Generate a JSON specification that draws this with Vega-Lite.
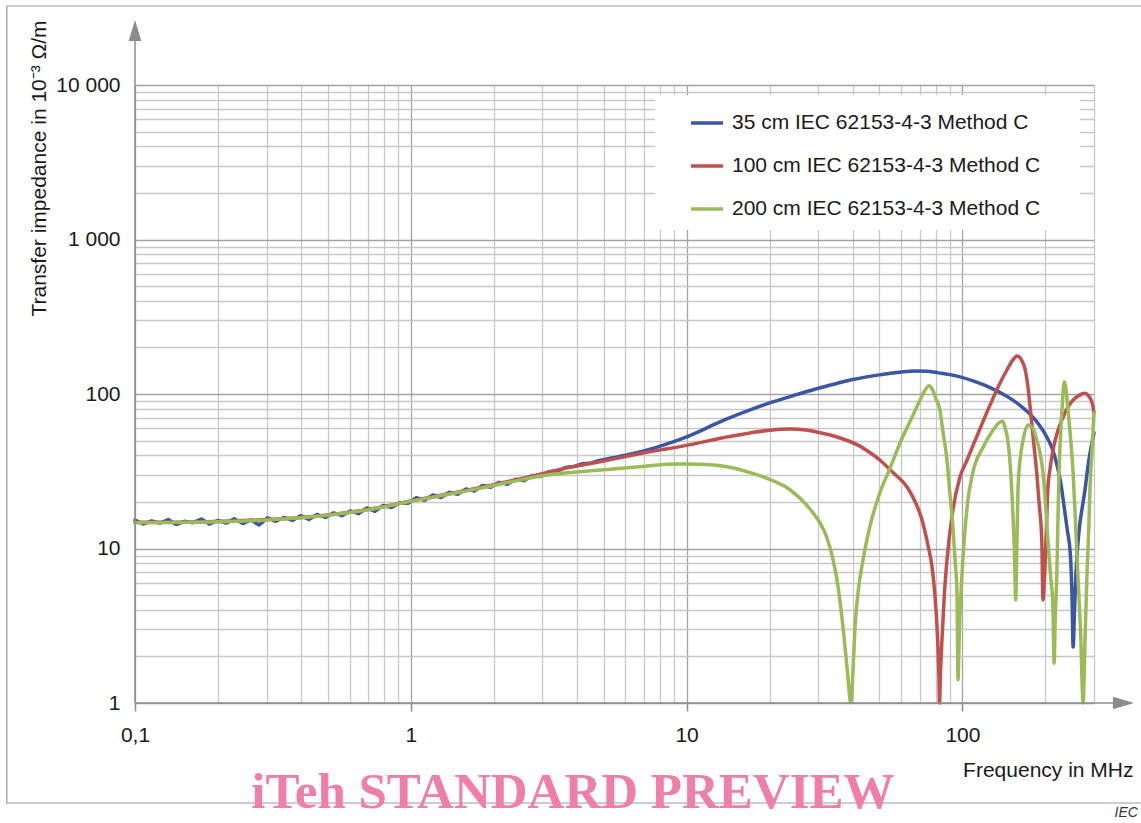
{
  "$schema": "https://vega.github.io/schema/vega-lite/v6.json",
  "width": 959,
  "height": 618,
  "autosize": {"type": "none"},
  "padding": {"left": 135, "top": 85, "right": 47, "bottom": 120},
  "background": "white",
  "config": {
    "view": {"stroke": null},
    "font": "Liberation Sans"
  },
  "layer": [
    {
      "data": {"values": [{}]},
      "mark": {"type": "rect", "fill": null, "stroke": "#9a9a9a", "strokeWidth": 1.2, "clip": false},
      "encoding": {
        "x": {"datum": 0.0343, "type": "quantitative", "scale": {"type": "log", "domain": [0.1, 300], "nice": false}},
        "x2": {"datum": 478},
        "y": {"datum": 32470, "type": "quantitative", "scale": {"type": "log", "domain": [1, 10000], "nice": false}},
        "y2": {"datum": 0.2253}
      }
    },
    {
      "data": {"values": [{}]},
      "mark": {"type": "rect", "fill": "white", "stroke": null},
      "encoding": {
        "x": {"datum": 7.68, "type": "quantitative"},
        "x2": {"datum": 267},
        "y": {"datum": 8617, "type": "quantitative"},
        "y2": {"datum": 1152}
      }
    },
    {
      "data": {"values": [
        {"f":0.1,"z":15.3},{"f":0.107,"z":14.4},{"f":0.115,"z":15.1},{"f":0.123,"z":14.6},{"f":0.132,"z":15.4},{"f":0.141,"z":14.3},{"f":0.151,"z":15.0},{"f":0.162,"z":14.7},{"f":0.174,"z":15.5},{"f":0.186,"z":14.4},{"f":0.2,"z":15.2},{"f":0.214,"z":14.6},{"f":0.229,"z":15.6},{"f":0.246,"z":14.5},{"f":0.263,"z":15.3},{"f":0.282,"z":14.2},{"f":0.302,"z":15.8},{"f":0.324,"z":15.0},{"f":0.347,"z":15.9},{"f":0.372,"z":15.2},{"f":0.398,"z":16.3},{"f":0.427,"z":15.4},{"f":0.457,"z":16.6},{"f":0.49,"z":15.9},{"f":0.525,"z":17.0},{"f":0.562,"z":16.3},{"f":0.603,"z":17.5},{"f":0.646,"z":16.8},{"f":0.692,"z":18.3},{"f":0.741,"z":17.4},{"f":0.794,"z":19.0},{"f":0.851,"z":18.4},{"f":0.912,"z":19.8},{"f":0.977,"z":19.6},{"f":1.047,"z":21.3},{"f":1.122,"z":20.5},{"f":1.202,"z":22.2},{"f":1.288,"z":21.4},{"f":1.38,"z":23.1},{"f":1.479,"z":22.4},{"f":1.585,"z":24.3},{"f":1.698,"z":23.5},{"f":1.82,"z":25.6},{"f":1.95,"z":24.9},{"f":2.089,"z":26.8},{"f":2.239,"z":26.0},{"f":2.399,"z":28.1},{"f":2.57,"z":27.5},{"f":2.754,"z":29.6},{"f":2.951,"z":29.2},{"f":3.162,"z":31.4},{"f":3.388,"z":31.6},{"f":3.631,"z":33.4},{"f":3.89,"z":33.9},{"f":4.169,"z":35.3},{"f":4.467,"z":35.6},{"f":4.786,"z":37.0},{"f":5.0,"z":37.6}
      ]},
      "mark": {"type": "line", "strokeWidth": 3.5, "interpolate": "linear", "strokeJoin": "round", "strokeCap": "round"},
      "encoding": {
        "x": {
          "field": "f", "type": "quantitative",
          "scale": {"type": "log", "domain": [0.1, 300], "nice": false},
          "axis": {
            "values": [0.1,0.2,0.3,0.4,0.5,0.6,0.7,0.8,0.9,1,2,3,4,5,6,7,8,9,10,20,30,40,50,60,70,80,90,100,200,300],
            "domain": false,
            "grid": true,
            "gridColor": {"condition": {"test": "datum.value == 0.1 || datum.value == 1 || datum.value == 10 || datum.value == 100", "value": "#a3a3a3"}, "value": "#c8c8c8"},
            "gridWidth": 1.3,
            "ticks": true,
            "tickSize": 8,
            "tickWidth": 1.5,
            "tickColor": "#8c8c8c",
            "tickOpacity": {"condition": {"test": "datum.value == 0.1 || datum.value == 1 || datum.value == 10 || datum.value == 100", "value": 1}, "value": 0},
            "labelExpr": "datum.value == 0.1 ? '0,1' : datum.value == 1 ? '1' : datum.value == 10 ? '10' : datum.value == 100 ? '100' : ''",
            "labelFont": "Liberation Sans",
            "labelFontSize": 21,
            "labelColor": "#1a1a1a",
            "labelPadding": 13,
            "labelOverlap": false,
            "labelFlush": false,
            "labelBound": false,
            "title": "Frequency in MHz",
            "titleFont": "Liberation Sans",
            "titleFontSize": 21,
            "titleFontWeight": "normal",
            "titleColor": "#1a1a1a",
            "titleX": 998,
            "titleY": 67,
            "titleAlign": "right",
            "titleBaseline": "middle"
          }
        },
        "y": {
          "field": "z", "type": "quantitative",
          "scale": {"type": "log", "domain": [1, 10000], "nice": false},
          "axis": {
            "values": [1,2,3,4,5,6,7,8,9,10,20,30,40,50,60,70,80,90,100,200,300,400,500,600,700,800,900,1000,2000,3000,4000,5000,6000,7000,8000,9000,10000],
            "domain": false,
            "grid": true,
            "gridColor": {"condition": {"test": "datum.value == 1 || datum.value == 10 || datum.value == 100 || datum.value == 1000 || datum.value == 10000", "value": "#a3a3a3"}, "value": "#c8c8c8"},
            "gridWidth": 1.3,
            "ticks": false,
            "tickSize": 0,
            "labelExpr": "datum.value == 1 ? '1' : datum.value == 10 ? '10' : datum.value == 100 ? '100' : datum.value == 1000 ? '1 000' : datum.value == 10000 ? '10 000' : ''",
            "labelFont": "Liberation Sans",
            "labelFontSize": 21,
            "labelColor": "#1a1a1a",
            "labelPadding": 15,
            "labelOverlap": false,
            "labelFlush": false,
            "labelBound": false,
            "title": "Transfer impedance in 10⁻³ Ω/m",
            "titleFont": "Liberation Sans",
            "titleFontSize": 21,
            "titleFontWeight": "normal",
            "titleColor": "#1a1a1a",
            "titleAngle": 270,
            "titleX": -96,
            "titleY": 83,
            "titleAlign": "center",
            "titleBaseline": "middle"
          }
        },
        "color": {
          "datum": "35 cm IEC 62153-4-3 Method C", "type": "nominal",
          "scale": {"domain": ["35 cm IEC 62153-4-3 Method C", "100 cm IEC 62153-4-3 Method C", "200 cm IEC 62153-4-3 Method C"], "range": ["#3a56a5", "#c0504d", "#9bbb59"]},
          "legend": {"orient": "none", "legendX": 554, "legendY": 20, "title": null, "symbolType": "stroke", "symbolSize": 1024, "symbolStrokeWidth": 3.5, "labelFont": "Liberation Sans", "labelFontSize": 21, "labelColor": "#1a1a1a", "labelOffset": 7, "rowPadding": 15, "padding": 0, "labelLimit": 0}
        }
      }
    },
    {
      "data": {"values": [
        {"f":5.0,"z":37.6},{"f":6,"z":40.2},{"f":7,"z":42.8},{"f":8.5,"z":47.5},{"f":10,"z":52.7},{"f":12,"z":61},{"f":14,"z":69},{"f":17,"z":79},{"f":20,"z":87.5},{"f":25,"z":99},{"f":30,"z":109},{"f":35,"z":117},{"f":40,"z":124},{"f":50,"z":133},{"f":60,"z":139},{"f":67,"z":141},{"f":74,"z":140.5},{"f":82,"z":137},{"f":90,"z":133.5},{"f":98,"z":129},{"f":110,"z":121},{"f":126,"z":110},{"f":140,"z":100},{"f":150,"z":93},{"f":165,"z":82},{"f":176,"z":74},{"f":190,"z":63},{"f":203,"z":52},{"f":212,"z":44},{"f":220,"z":35},{"f":227,"z":27},{"f":232,"z":20.6},{"f":240,"z":13.2},{"f":246,"z":9.4},{"f":250,"z":4.5},{"f":252,"z":2.3},{"f":255,"z":4},{"f":258,"z":6.9},{"f":262,"z":10.5},{"f":266,"z":14},{"f":274,"z":20},{"f":280,"z":26},{"f":285,"z":33.7},{"f":292,"z":44},{"f":300,"z":56}
      ]},
      "mark": {"type": "line", "strokeWidth": 3.5, "interpolate": "monotone", "strokeJoin": "round", "strokeCap": "round"},
      "encoding": {
        "x": {"field": "f", "type": "quantitative"},
        "y": {"field": "z", "type": "quantitative"},
        "color": {"datum": "35 cm IEC 62153-4-3 Method C", "type": "nominal"}
      }
    },
    {
      "data": {"values": [
        {"f":0.1,"z":14.8},{"f":0.15,"z":14.8},{"f":0.2,"z":14.95},{"f":0.3,"z":15.4},{"f":0.4,"z":15.9},{"f":0.5,"z":16.5},{"f":0.7,"z":17.9},{"f":1,"z":20.3},{"f":1.5,"z":23.3},{"f":2,"z":25.9},{"f":3,"z":30.5},{"f":3.47,"z":32.5},{"f":4,"z":34.2},{"f":5,"z":36.8},{"f":6.95,"z":41.5},{"f":10,"z":46.5},{"f":14,"z":52.7},{"f":17,"z":56},{"f":20,"z":58.3},{"f":23.7,"z":59.3},{"f":27,"z":58.5},{"f":30,"z":56.5},{"f":36,"z":51.9},{"f":42.5,"z":46},{"f":46,"z":42},{"f":50.2,"z":37.4},{"f":56,"z":31},{"f":63,"z":25},{"f":67,"z":20.5},{"f":71.4,"z":15.3},{"f":75,"z":10.5},{"f":77.6,"z":7.6},{"f":79.5,"z":5},{"f":80.9,"z":3.1},{"f":82.2,"z":1.5},{"f":82.6,"z":1.0},{"f":83.2,"z":1.5},{"f":84.4,"z":2.67},{"f":86,"z":5},{"f":87.9,"z":8.4},{"f":92.4,"z":17.8},{"f":98,"z":29},{"f":104,"z":37.4},{"f":109,"z":46},{"f":116,"z":60},{"f":126,"z":85},{"f":135,"z":112},{"f":145,"z":143},{"f":152,"z":165},{"f":158,"z":176},{"f":163,"z":168},{"f":169,"z":143},{"f":173,"z":110},{"f":176,"z":82.4},{"f":181,"z":50},{"f":186,"z":30.8},{"f":190,"z":19},{"f":194,"z":11.4},{"f":196,"z":4.64},{"f":198,"z":6},{"f":201,"z":11.4},{"f":204,"z":23.9},{"f":208,"z":33},{"f":213,"z":43.4},{"f":222,"z":58},{"f":232,"z":71},{"f":240,"z":81},{"f":252,"z":91.4},{"f":265,"z":98},{"f":278,"z":101},{"f":287,"z":97},{"f":293,"z":91.4},{"f":297,"z":84},{"f":300,"z":75.3}
      ]},
      "mark": {"type": "line", "strokeWidth": 3.5, "interpolate": "monotone", "strokeJoin": "round", "strokeCap": "round"},
      "encoding": {
        "x": {"field": "f", "type": "quantitative"},
        "y": {"field": "z", "type": "quantitative"},
        "color": {"datum": "100 cm IEC 62153-4-3 Method C", "type": "nominal"}
      }
    },
    {
      "data": {"values": [
        {"f":0.1,"z":14.7},{"f":0.2,"z":14.9},{"f":0.3,"z":15.3},{"f":0.4,"z":15.8},{"f":0.5,"z":16.4},{"f":0.7,"z":17.8},{"f":1,"z":20.2},{"f":1.5,"z":23.1},{"f":2,"z":25.6},{"f":2.5,"z":27.8},{"f":3,"z":29.6},{"f":3.47,"z":30.6},{"f":4,"z":31.3},{"f":5,"z":32.3},{"f":6.95,"z":34},{"f":9.23,"z":35.2},{"f":11,"z":35.1},{"f":14,"z":33.8},{"f":17,"z":31.0},{"f":20,"z":28.0},{"f":23.7,"z":24.0},{"f":26,"z":20.8},{"f":28.3,"z":17.6},{"f":30.5,"z":14.6},{"f":32.3,"z":11.7},{"f":34,"z":8.4},{"f":35.5,"z":5.5},{"f":36.9,"z":3.1},{"f":38.3,"z":1.6},{"f":39.4,"z":1.0},{"f":40.1,"z":1.6},{"f":40.8,"z":3.1},{"f":42,"z":5.5},{"f":43.6,"z":8.4},{"f":46,"z":13.5},{"f":50.2,"z":22.9},{"f":55,"z":34},{"f":59.4,"z":48.2},{"f":65,"z":68},{"f":70.2,"z":91.4},{"f":73,"z":105},{"f":75.6,"z":113},{"f":78,"z":106},{"f":80,"z":94},{"f":82.9,"z":78.8},{"f":85,"z":57},{"f":87.9,"z":37.4},{"f":90,"z":23},{"f":92.4,"z":13.8},{"f":94,"z":8.5},{"f":95.6,"z":5.15},{"f":96.4,"z":1.41},{"f":97.5,"z":3},{"f":99.7,"z":6.9},{"f":104,"z":18.6},{"f":109,"z":30.8},{"f":119,"z":45.4},{"f":128,"z":57},{"f":137,"z":65.9},{"f":140,"z":66.5},{"f":143,"z":60},{"f":146,"z":50.4},{"f":149,"z":35},{"f":152,"z":18.6},{"f":154.5,"z":9},{"f":156,"z":4.64},{"f":157.5,"z":10},{"f":159,"z":23.9},{"f":162,"z":38},{"f":166,"z":50.4},{"f":173,"z":63},{"f":180,"z":60},{"f":186,"z":50.4},{"f":191,"z":42},{"f":196,"z":30.8},{"f":200,"z":20},{"f":204,"z":11.4},{"f":209,"z":6.5},{"f":213,"z":4.18},{"f":215,"z":1.81},{"f":217,"z":3.5},{"f":220,"z":6.9},{"f":222,"z":15},{"f":224,"z":30.8},{"f":227,"z":55},{"f":230,"z":82.4},{"f":234,"z":120},{"f":237,"z":110},{"f":241,"z":82.4},{"f":246,"z":55},{"f":252,"z":30.8},{"f":257,"z":15},{"f":262,"z":6.9},{"f":268,"z":3},{"f":274,"z":1.0},{"f":279,"z":3},{"f":283,"z":6.9},{"f":287,"z":13},{"f":290,"z":23.9},{"f":295,"z":43},{"f":300,"z":75.3}
      ]},
      "mark": {"type": "line", "strokeWidth": 3.5, "interpolate": "monotone", "strokeJoin": "round", "strokeCap": "round"},
      "encoding": {
        "x": {"field": "f", "type": "quantitative"},
        "y": {"field": "z", "type": "quantitative"},
        "color": {"datum": "200 cm IEC 62153-4-3 Method C", "type": "nominal"}
      }
    },
    {
      "data": {"values": [{}]},
      "mark": {"type": "rule", "color": "#8c8c8c", "strokeWidth": 1.5, "clip": false},
      "encoding": {
        "x": {"datum": 0.1, "type": "quantitative"},
        "y": {"datum": 1, "type": "quantitative"},
        "y2": {"datum": 19550}
      }
    },
    {
      "data": {"values": [{}]},
      "mark": {"type": "rule", "color": "#8c8c8c", "strokeWidth": 1.5, "clip": false},
      "encoding": {
        "x": {"datum": 0.1, "type": "quantitative"},
        "x2": {"datum": 354.5},
        "y": {"datum": 1, "type": "quantitative"}
      }
    },
    {
      "data": {"values": [{}]},
      "mark": {"type": "point", "shape": "M0,-1L0.6,1L-0.6,1Z", "size": 441, "filled": true, "color": "#8c8c8c", "opacity": 1, "clip": false},
      "encoding": {
        "x": {"datum": 0.1, "type": "quantitative"},
        "y": {"datum": 22530, "type": "quantitative"}
      }
    },
    {
      "data": {"values": [{}]},
      "mark": {"type": "point", "shape": "M1,0L-1,-0.6L-1,0.6Z", "size": 441, "filled": true, "color": "#8c8c8c", "opacity": 1, "clip": false},
      "encoding": {
        "x": {"datum": 383.8, "type": "quantitative"},
        "y": {"datum": 1, "type": "quantitative"}
      }
    },
    {
      "data": {"values": [{"t": "iTeh STANDARD PREVIEW"}]},
      "mark": {"type": "text", "font": "Liberation Serif", "fontWeight": "bold", "fontSize": 51, "color": "#ef7ea8", "align": "center", "baseline": "alphabetic", "clip": false},
      "encoding": {
        "text": {"field": "t"},
        "x": {"datum": 3.87, "type": "quantitative"},
        "y": {"datum": 0.209, "type": "quantitative"}
      }
    },
    {
      "data": {"values": [{"t": "IEC"}]},
      "mark": {"type": "text", "font": "Liberation Sans", "fontStyle": "italic", "fontSize": 14, "color": "#333333", "align": "right", "baseline": "alphabetic", "clip": false},
      "encoding": {
        "text": {"field": "t"},
        "x": {"datum": 433, "type": "quantitative"},
        "y": {"datum": 0.183, "type": "quantitative"}
      }
    }
  ]
}
